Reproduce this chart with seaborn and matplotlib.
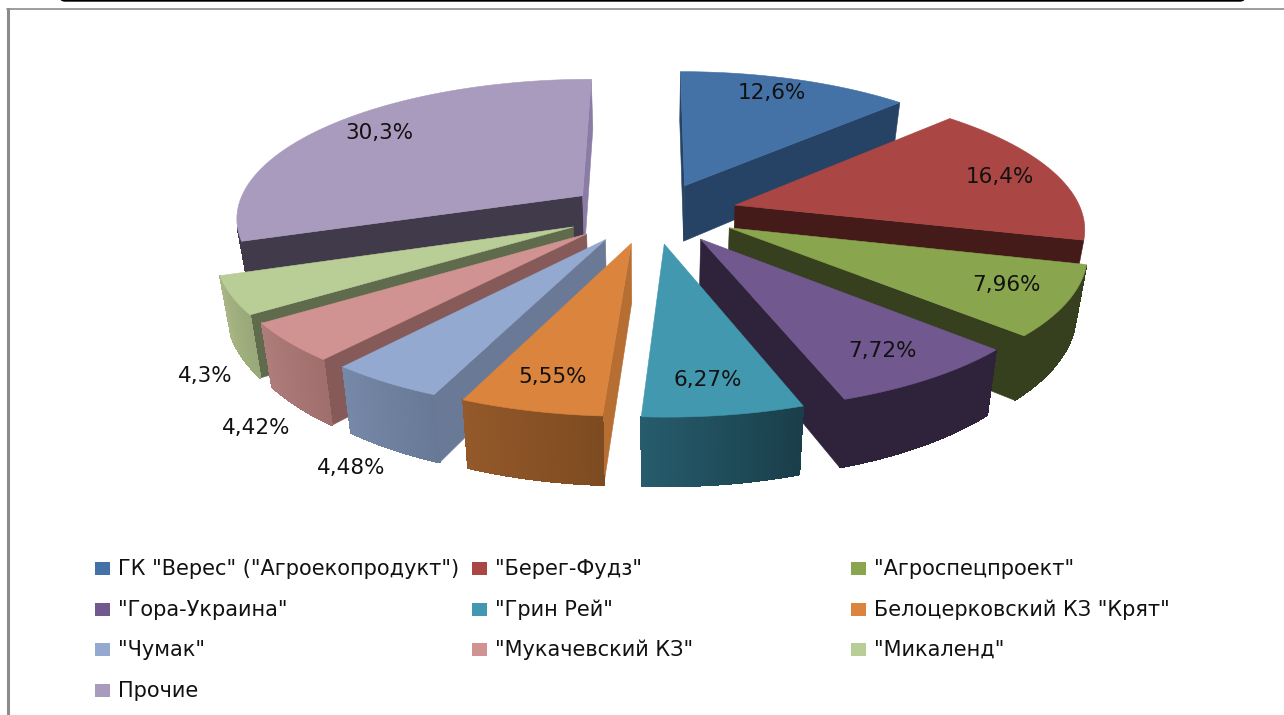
import matplotlib.pyplot as plt
import numpy as np
import seaborn as sns
from matplotlib.collections import PolyCollection
from matplotlib.patches import FancyBboxPatch, Polygon, Rectangle

companies = [
    'ГК "Верес" ("Агроекопродукт")',
    '"Берег-Фудз"',
    '"Агроспецпроект"',
    '"Гора-Украина"',
    '"Грин Рей"',
    'Белоцерковский КЗ "Крят"',
    '"Чумак"',
    '"Мукачевский КЗ"',
    '"Микаленд"',
    "Прочие",
]
shares = [12.6, 16.4, 7.96, 7.72, 6.27, 5.55, 4.48, 4.42, 4.3, 30.3]
share_labels = ["12,6%", "16,4%", "7,96%", "7,72%", "6,27%", "5,55%", "4,48%", "4,42%", "4,3%", "30,3%"]

top_colors = ["#4472A7", "#AA4644", "#89A54E", "#71588F", "#4198AF", "#DB843D", "#93A9CF", "#D19392", "#B9CD96", "#A99BBD"]
side_colors = ["#264264", "#451B19", "#37401E", "#2E233A", "#1F4C5A", "#B76E32", "#6A7A96", "#875A5A", "#606B4E", "#413A4B"]
wall_left = ["#264264", "#451B19", "#37401E", "#2E233A", "#265C6C", "#94592A", "#7688A8", "#AE7C7B", "#A8B584", "#413A4B"]
wall_right = ["#264264", "#451B19", "#37401E", "#2E233A", "#1A3E4A", "#7D4B21", "#687996", "#A06E6D", "#98A878", "#413A4B"]
last_cut_color = "#8A7CA5"  # the thin face at 12 o'clock on the last slice is lighter

# pixel positions of the labels, they do not follow one rule in the original
label_xy = [(772, 93), (1000, 177), (1007, 285), (883, 351), (708, 380), (553, 377), (351, 468), (256, 428), (205, 376), (379, 133)]

CX, CY = 652, 213
A, B, H = 347, 138, 57
K = 0.145
NARROW = 0.026  # walls lean inward towards the bottom
EXPLODE_X, EXPLODE_Y = 0.25, 0.22


def project(x, y, z=0.0):
    d = 1 + K * y
    return np.column_stack([CX + x * A / d * (1 - NARROW * z), CY - y * B / d + z * H / d])


def signed_area(pts):
    x, y = pts[:, 0], pts[:, 1]
    return 0.5 * np.sum(x * np.roll(y, -1) - np.roll(x, -1) * y)


def draw_slice(ax, a0, a1, top, side, left, right):
    mid = (a0 + a1) / 2
    ox, oy = EXPLODE_X * np.sin(mid), EXPLODE_Y * np.cos(mid)
    theta = np.linspace(a0, a1, 60)
    rx, ry = ox + np.sin(theta), oy + np.cos(theta)

    apex_top = project(np.array([ox]), np.array([oy]))
    apex_bot = project(np.array([ox]), np.array([oy]), 1.0)
    rim_top = project(rx, ry)
    rim_bot = project(rx, ry, 1.0)

    # cut faces, only the ones turned to the viewer
    if a0 > np.pi or a0 < 0.1:
        face = np.vstack([apex_top, rim_top[0], rim_bot[0], apex_bot])
        ax.add_patch(Polygon(face, facecolor=side, edgecolor=side, linewidth=0.4))
    if a1 < np.pi or a1 > 1.9 * np.pi:
        color = last_cut_color if a1 > 1.9 * np.pi else side
        face = np.vstack([apex_top, rim_top[-1], rim_bot[-1], apex_bot])
        ax.add_patch(Polygon(face, facecolor=color, edgecolor=color, linewidth=0.4))

    # outer wall as thin strips so it can carry the gradient
    quads, colors = [], []
    ramp = sns.blend_palette([left, right], len(theta))
    order = np.argsort(rim_top[:, 0])
    rank = np.empty_like(order)
    rank[order] = np.arange(len(order))
    for i in range(len(theta) - 1):
        q = np.vstack([rim_top[i], rim_top[i + 1], rim_bot[i + 1], rim_bot[i]])
        if signed_area(q) < 0:
            quads.append(q)
            colors.append(ramp[rank[i]])
    if quads:
        ax.add_collection(PolyCollection(quads, facecolors=colors, edgecolors=colors, linewidths=0.6, antialiaseds=False))

    ax.add_patch(Polygon(np.vstack([apex_top, rim_top]), facecolor=top, edgecolor=top, linewidth=0.4))


sns.set_theme(style="white")
plt.rcParams["font.family"] = ["DejaVu Sans"]

fig = plt.figure(figsize=(12.84, 7.15), dpi=100)
ax = fig.add_axes([0, 0, 1, 1])
ax.set_xlim(0, 1284)
ax.set_ylim(715, 0)
ax.axis("off")

# slide frame
ax.plot([7.5, 7.5], [9, 715], color="#8C8C8C", linewidth=2.2)
ax.plot([7, 1284], [9, 9], color="#8C8C8C", linewidth=1.2)
ax.add_patch(FancyBboxPatch((60, -20), 1185, 21, boxstyle="round,pad=0,rounding_size=5", facecolor="black", edgecolor="black", linewidth=1))

palette = sns.color_palette(top_colors)
edges = np.cumsum([0] + shares) / sum(shares) * 2 * np.pi
mids = (edges[:-1] + edges[1:]) / 2

# back slices first
for i in np.argsort(-np.cos(mids)):
    draw_slice(ax, edges[i], edges[i + 1], palette[i], side_colors[i], wall_left[i], wall_right[i])

for text, (x, y) in zip(share_labels, label_xy):
    ax.text(x, y, text, ha="center", va="center", fontsize=15.5, color="#111111")

# legend in reading order, three columns
col_x = [95, 472, 851]
row_y = [569, 610, 650, 691]
for i, name in enumerate(companies):
    x = col_x[i % 3]
    y = row_y[i // 3]
    ax.add_patch(Rectangle((x, y - 7), 15, 13, facecolor=palette[i], edgecolor="none"))
    ax.text(x + 23, y, name, ha="left", va="center", fontsize=15, color="#111111")

fig.savefig("out.png", dpi=100)
